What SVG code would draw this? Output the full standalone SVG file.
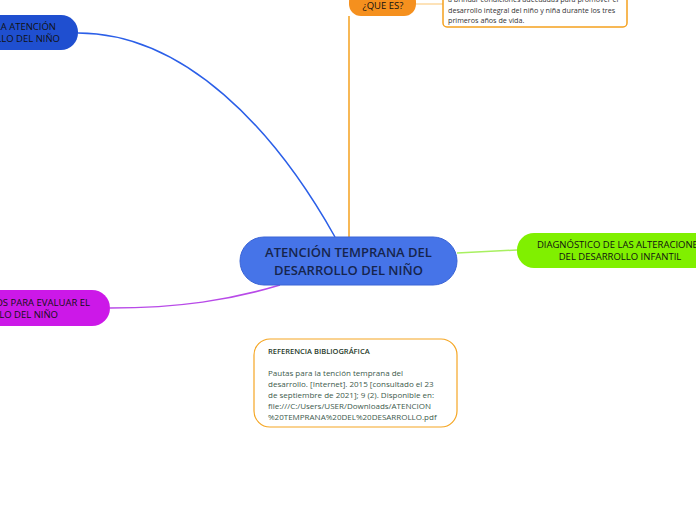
<svg xmlns="http://www.w3.org/2000/svg" width="696" height="520" viewBox="0 0 696 520">
<style>
text{font-family:"Open Sans","Noto Sans","Liberation Sans",sans-serif}
.conn{fill:none;stroke-width:1.5}
.t-main{font-size:13px;font-weight:600;fill:#16254d;text-anchor:middle}
.t-node{font-size:9.5px;fill:#111}
.t-small{font-size:7.2px;fill:#333}
.t-ref{font-size:8px;fill:#3d5a4c}
</style>
<rect width="696" height="520" fill="#fff"/>
<g id="connectors">
<path class="conn" d="M78,33 C185,33 275,130 335,237" stroke="#2b5fe8"/>
<path class="conn" d="M349,16 L349,237" stroke="#f5a11e" stroke-width="2"/>
<path class="conn" d="M416,4 L443,4" stroke="#fcd9a0"/>
<path class="conn" d="M457,253 L517,250" stroke="#a8f060"/>
<path class="conn" d="M110,308 C180,308 230,300 280,285" stroke="#b84ae8"/>
</g>
<g id="node-center">
<rect x="240" y="237" width="217" height="48" rx="24" fill="#4674e8" stroke="#3a64d6" stroke-width="1"/>
<text class="t-main" x="348.5" y="257">ATENCIÓN TEMPRANA DEL</text>
<text class="t-main" x="348.5" y="275">DESARROLLO DEL NIÑO</text>
</g>
<g id="node-topleft">
<rect x="-40" y="15" width="118" height="35" rx="17" fill="#1f4fd0"/>
<text class="t-node" x="56" y="30" text-anchor="end" fill="#0b1633">LA ATENCIÓN</text>
<text class="t-node" x="60" y="42" text-anchor="end" fill="#0b1633">LLO DEL NIÑO</text>
</g>
<g id="node-quees">
<rect x="349" y="-10" width="67" height="26" rx="12" fill="#f5901e"/>
<text class="t-node" x="383" y="9" text-anchor="middle" fill="#1e3a1e">¿QUE ES?</text>
</g>
<g id="node-quees-text">
<rect x="443" y="-6" width="184" height="33" rx="4" fill="#fff" stroke="#f5a11e" stroke-width="1.5"/>
<text class="t-small" x="448" y="2">a brindar condiciones adecuadas para promover el</text>
<text class="t-small" x="448" y="13">desarrollo integral del niño y niña durante los tres</text>
<text class="t-small" x="448" y="23">primeros años de vida.</text>
</g>
<g id="node-diagnostico">
<rect x="517" y="233" width="220" height="35" rx="17" fill="#80f000"/>
<text class="t-node" x="620" y="248" text-anchor="middle" fill="#1a8a3a">DIAGNÓSTICO DE LAS ALTERACIONES</text>
<text class="t-node" x="620" y="260" text-anchor="middle" fill="#1a8a3a">DEL DESARROLLO INFANTIL</text>
</g>
<g id="node-instrumentos">
<rect x="-40" y="290" width="150" height="36" rx="18" fill="#cc18e8"/>
<text class="t-node" x="90" y="306" text-anchor="end" fill="#2a0a33">OS PARA EVALUAR EL</text>
<text class="t-node" x="58" y="318" text-anchor="end" fill="#2a0a33">LLO DEL NIÑO</text>
</g>
<g id="node-referencia">
<rect x="254" y="339" width="203" height="88" rx="16" fill="#fff" stroke="#f5a623" stroke-width="1.2"/>
<text x="268" y="354" font-size="7.5" font-weight="600" fill="#1f3a2a">REFERENCIA BIBLIOGRÁFICA</text>
<text class="t-ref" x="268" y="376">Pautas para la tención temprana del</text>
<text class="t-ref" x="268" y="387">desarrollo. [Internet]. 2015 [consultado el 23</text>
<text class="t-ref" x="268" y="398">de septiembre de 2021]; 9 (2). Disponible en:</text>
<text class="t-ref" x="268" y="409">file:///C:/Users/USER/Downloads/ATENCION</text>
<text class="t-ref" x="268" y="420">%20TEMPRANA%20DEL%20DESARROLLO.pdf</text>
</g>
</svg>
